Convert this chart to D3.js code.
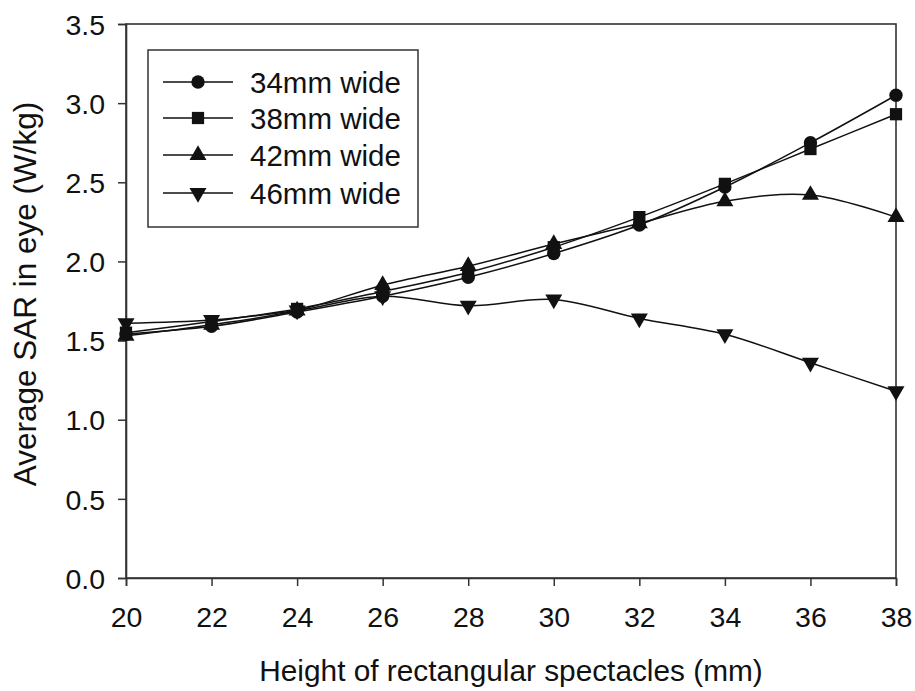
<!DOCTYPE html>
<html>
<head>
<meta charset="utf-8">
<script src="https://cdn.jsdelivr.net/npm/d3@7/dist/d3.min.js"></script>
<style>
  html, body { margin: 0; padding: 0; background: #fff; }
  text { font-family: "Liberation Sans", Arial, sans-serif; fill: #111; }
</style>
</head>
<body>
<svg id="chart" width="915" height="691"></svg>
<script>
const heights = [20, 22, 24, 26, 28, 30, 32, 34, 36, 38];
const seriesNames = ["34mm wide", "38mm wide", "42mm wide", "46mm wide"];
const sar34 = [1.54, 1.59, 1.68, 1.78, 1.90, 2.05, 2.23, 2.47, 2.75, 3.05];
const sar38 = [1.55, 1.62, 1.70, 1.81, 1.93, 2.09, 2.28, 2.49, 2.71, 2.93];
const sar42 = [1.53, 1.60, 1.69, 1.85, 1.97, 2.11, 2.24, 2.38, 2.42, 2.28];
const sar46 = [1.61, 1.63, 1.69, 1.78, 1.72, 1.76, 1.64, 1.54, 1.36, 1.18];
const xTicks = [20, 22, 24, 26, 28, 30, 32, 34, 36, 38];
const yTicks = [0, 0.5, 1.0, 1.5, 2.0, 2.5, 3.0, 3.5];
const symbols = [d3.symbolCircle, d3.symbolSquare, d3.symbolTriangle, "tri-down"];

const allSeries = [sar34, sar38, sar42, sar46];

const svg = d3.select("#chart");
const mLeft = 126, mRight = 896, mTop = 24, mBottom = 578;

const x = d3.scaleLinear().domain([20, 38]).range([mLeft, mRight]);
const y = d3.scaleLinear().domain([0, 3.5]).range([mBottom, mTop]);

const ink = "#111";

// frame
svg.append("rect")
  .attr("x", mLeft).attr("y", mTop)
  .attr("width", mRight - mLeft).attr("height", mBottom - mTop)
  .attr("fill", "none").attr("stroke", "#333").attr("stroke-width", 1.6);

// axes
const xAxis = svg.append("g")
  .attr("transform", `translate(0,${mBottom})`)
  .call(d3.axisBottom(x).tickValues(xTicks).tickFormat(d3.format("d")).tickSize(8).tickPadding(20));
const yAxis = svg.append("g")
  .attr("transform", `translate(${mLeft},0)`)
  .call(d3.axisLeft(y).tickValues(yTicks).tickFormat(d3.format(".1f")).tickSize(8).tickPadding(13));

[xAxis, yAxis].forEach(g => {
  g.select(".domain").attr("stroke", "#333").attr("stroke-width", 1.6);
  g.selectAll(".tick line").attr("stroke", "#333").attr("stroke-width", 1.5);
  g.selectAll(".tick text")
    .attr("font-family", "Liberation Sans, Arial, sans-serif")
    .attr("font-size", 28.5).attr("fill", ink);
});
yAxis.selectAll(".tick text").attr("dy", "0.36em");
xAxis.selectAll(".tick text").attr("dy", "0.72em");

// titles
svg.append("text")
  .attr("x", (mLeft + mRight) / 2).attr("y", 681)
  .attr("text-anchor", "middle").attr("font-size", 29.8)
  .text("Height of rectangular spectacles (mm)");
svg.append("text")
  .attr("transform", `translate(36,294) rotate(-90)`)
  .attr("text-anchor", "middle").attr("font-size", 31.5)
  .text("Average SAR in eye (W/kg)");

function symbolPath(s, size) {
  if (s === "tri-down") {
    return d3.symbol().type(d3.symbolTriangle).size(size)();
  }
  return d3.symbol().type(s).size(size)();
}
function symbolSize(s) {
  if (s === d3.symbolCircle) return 140;
  if (s === d3.symbolSquare) return 150;
  return 125;
}

const line = d3.line()
  .x((d, i) => x(heights[i]))
  .y(d => y(d))
  .curve(d3.curveCatmullRom.alpha(0.5));

allSeries.forEach((vals) => {
  svg.append("path")
    .attr("d", line(vals))
    .attr("fill", "none").attr("stroke", ink).attr("stroke-width", 1.5);
});

allSeries.forEach((vals, si) => {
  const s = symbols[si];
  svg.append("g").selectAll("path")
    .data(vals)
    .join("path")
    .attr("d", symbolPath(s, symbolSize(s)))
    .attr("transform", (d, i) => `translate(${x(heights[i])},${y(d)})` + (s === "tri-down" ? " rotate(180)" : ""))
    .attr("fill", ink);
});

// legend
const lg = svg.append("g");
lg.append("rect")
  .attr("x", 148).attr("y", 50).attr("width", 270).attr("height", 177)
  .attr("fill", "#fff").attr("stroke", "#333").attr("stroke-width", 1.5);
const rowY = [82, 118, 155, 193];
seriesNames.forEach((name, i) => {
  const ry = rowY[i];
  lg.append("line").attr("x1", 163).attr("x2", 233).attr("y1", ry).attr("y2", ry)
    .attr("stroke", ink).attr("stroke-width", 1.5);
  const s = symbols[i];
  lg.append("path")
    .attr("d", symbolPath(s, symbolSize(s)))
    .attr("transform", `translate(198,${ry})` + (s === "tri-down" ? " rotate(180)" : ""))
    .attr("fill", ink);
  lg.append("text").attr("x", 250).attr("y", ry).attr("dy", "0.36em")
    .attr("font-size", 29.5).text(name);
});
</script>
</body>
</html>
